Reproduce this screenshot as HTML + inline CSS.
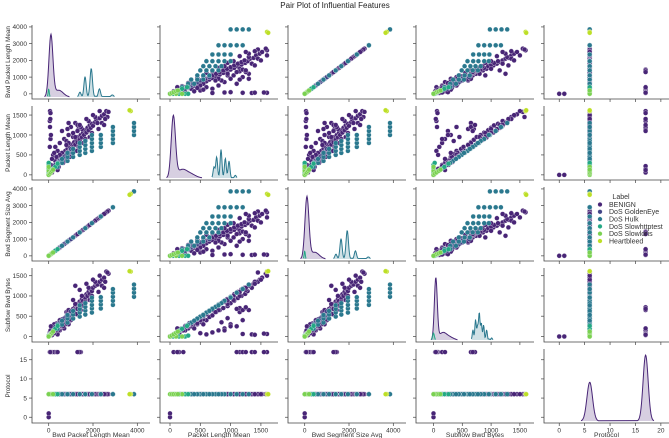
<!DOCTYPE html>
<html><head><meta charset="utf-8"><style>
html,body{margin:0;padding:0;background:#fff;}
svg{display:block;font-family:"Liberation Sans",sans-serif;}
</style></head><body>
<svg id="chart" width="669" height="438" viewBox="0 0 669 438" xmlns="http://www.w3.org/2000/svg">
<text x="335" y="8" text-anchor="middle" font-size="8" fill="#222">Pair Plot of Influential Features</text>
</svg>
<script>
// ---- data: each row = [bwdPacketLengthMean, packetLengthMean, bwdSegmentSizeAvg, subflowBwdBytes, protocol]
const featureNames = ["Bwd Packet Length Mean","Packet Length Mean","Bwd Segment Size Avg","Subflow Bwd Bytes","Protocol"];
const classNames = ["BENIGN","DoS GoldenEye","DoS Hulk","DoS Slowhttptest","DoS Slowloris","Heartbleed"];
const classColors = ["#482576","#414487","#2a788e","#22a884","#7ad151","#bddf26"];
const benign = [
[20,15,20,10,6],[50,40,50,30,6],[80,90,80,40,6],[120,70,120,60,6],[150,160,150,100,6],[200,130,200,120,6],
[250,220,250,150,6],[300,180,300,190,6],[350,300,350,200,6],[400,250,400,260,6],[450,380,450,280,6],
[500,320,500,330,6],[550,450,550,300,6],[600,400,600,380,6],[650,520,650,350,6],[700,470,700,450,6],
[750,600,750,400,6],[800,520,800,500,6],[850,650,850,480,6],[900,580,900,560,6],[950,700,950,520,6],
[1000,640,1000,620,6],[1050,760,1050,600,6],[1100,700,1100,680,6],[1150,820,1150,650,6],[1200,760,1200,740,6],
[1250,880,1250,700,6],[1300,820,1300,800,6],[1350,950,1350,750,6],[1400,880,1400,860,6],[1450,1000,1450,820,6],
[1500,940,1500,920,6],[1550,1060,1550,880,6],[1600,1000,1600,980,6],[1650,1120,1650,950,6],[1700,1060,1700,1040,6],
[1750,1180,1750,1000,6],[1800,1120,1800,1100,6],[1850,1240,1850,1050,6],[1900,1180,1900,1160,6],[1950,1280,1950,1120,6],
[2000,1230,2000,1200,6],[2100,1320,2100,1250,6],[2150,1380,2150,1300,6],[2200,1300,2200,1280,6],[2300,1420,2300,1350,6],
[2400,1480,2400,1400,6],[2500,1520,2500,1450,6],[2600,1600,2600,1600,6],[2700,1580,2700,1550,6],[1200,1300,1200,1250,6],
[2650,1450,2650,1580,6],[700,900,700,200,6],[500,800,500,150,6],[900,1000,900,300,6],[300,700,300,100,6],
[600,1100,600,250,6],[1000,1200,1000,400,6],[400,600,400,50,6],[800,850,800,350,6],[200,500,200,80,6],[1100,950,1100,450,6],
[300,350,300,250,6],[450,200,450,150,6],[600,550,600,420,6],[750,350,750,300,6],[900,800,900,650,6],[1050,550,1050,500,6],
[1200,950,1200,800,6],[1350,700,1350,650,6],[1500,1150,1500,1000,6],[1650,900,1650,850,6],[1800,1350,1800,1200,6],
[1950,1050,1950,1000,6],[2100,1450,2100,1350,6],[2250,1150,2250,1100,6],[2400,1300,2400,1250,6],[2550,1400,2550,1350,6],
[2000,1500,2000,1400,6],[1700,1400,1700,1300,6],[1400,1250,1400,1150,6],[1100,1050,1100,900,6],[800,750,800,600,6],
[500,500,500,400,6],[350,450,350,320,6],[650,300,650,250,6],[950,450,950,420,6],[1250,600,1250,550,6],[1550,800,1550,760,6],
[1850,950,1850,900,6],[2300,1600,2300,1500,6],[2500,1250,2500,1200,6],[100,250,100,150,6],[150,400,150,200,6],
[250,550,250,300,6],[50,700,50,100,6],[80,900,80,150,6],[100,1000,100,250,6],[60,1200,60,60,6],[850,1150,850,600,6],
[1300,1250,1300,700,6],[900,1300,900,650,6],
[0,0,0,0,0],[0,0,0,0,1],
[150,60,150,30,17],[250,150,250,80,17],[350,220,350,150,17],[400,120,400,200,17],
[60,1600,60,60,17],[80,1550,80,70,17],[50,1350,50,50,17],[70,1400,70,40,17],
[1350,1150,1350,700,17],[1450,1200,1450,650,17],[1400,1250,1400,720,17],[1300,1100,1300,680,17]
];
const goldenEye = [
[300,250,300,240,6],[500,350,500,340,6],[700,450,700,440,6],[900,550,900,500,6],
[400,300,400,280,6],[600,380,600,360,6],[1000,650,1000,620,6],[800,500,800,480,6]
];
const hulk = [
[3850,1000,3850,980,6],[3850,1100,3850,1080,6],[3850,1200,3850,1180,6],[3850,1300,3850,1280,6],
[2900,800,2900,780,6],[2900,900,2900,880,6],[2900,1000,2900,980,6],[2900,1100,2900,1080,6],[2900,1200,2900,1170,6],
[2350,700,2350,690,6],[2350,800,2350,790,6],[2350,900,2350,880,6],[2350,1000,2350,970,6],
[1950,600,1950,590,6],[1950,700,1950,690,6],[1950,800,1950,780,6],[1950,900,1950,880,6],[1950,1000,1950,960,6],
[1650,550,1650,540,6],[1650,650,1650,640,6],[1650,750,1650,730,6],[1650,850,1650,820,6],
[1400,500,1400,490,6],[1400,600,1400,590,6],[1400,700,1400,680,6],[1400,800,1400,770,6],
[1100,450,1100,440,6],[1100,550,1100,540,6],[1100,650,1100,630,6],
[850,350,850,340,6],[850,450,850,440,6],[850,550,850,530,6],
[600,300,600,290,6],[600,400,600,390,6],[400,200,400,190,6],[400,300,400,290,6],[200,120,200,110,6]
];
const slowhttptest = [
[0,50,0,0,6],[100,80,100,70,6],[200,150,200,140,6],[300,200,300,190,6],[400,280,400,260,6],
[0,150,0,0,6],[0,250,0,0,6],[0,300,0,20,6]
];
const slowloris = [
[0,0,0,0,6],[0,100,0,0,6],[50,30,50,20,6],[100,60,100,50,6],[150,100,150,90,6],[0,200,0,0,6],[200,130,200,120,6]
];
const heartbleed = [[3700,1600,3700,1600,6],[3650,1620,3650,1610,6]];
// ---- diagonal KDE components: [center, peak height (fraction of panel), bandwidth]
const kdeBwdBenign = [[100,0.9,90],[450,0.1,200]];
const kdeBwdHulk = [[1410,0.07,50],[1640,0.3,50],[1920,0.42,55],[2290,0.12,50],[2870,0.03,60]];
const kdeBwdSlow = [[0,0.12,25]];
const kdePlmBenign = [[55,0.9,35],[200,0.12,80],[350,0.05,80]];
const kdePlmHulk = [[726,0.16,15],[770,0.31,15],[842,0.42,15],[913,0.29,15],[974,0.25,15],[1078,0.04,15]];
const kdeSbbBenign = [[40,0.9,25],[165,0.11,70],[300,0.03,60]];
const kdeSbbHulk = [[685,0.15,12],[730,0.3,12],[765,0.2,12],[795,0.4,12],[830,0.25,12],[870,0.22,12],[922,0.15,12],[1010,0.03,12]];
const kdeSbbSlow = [[0,0.1,15]];
const kdeProtoBenign = [[6,0.57,0.55],[17,0.97,0.5]];
// ---- ticks
const xTickVals = [[0,2000,4000],[0,500,1000,1500],[0,2000,4000],[0,500,1000,1500],[0,5,10,15,20]];
const yTickVals = [[0,1000,2000,3000,4000],[0,500,1000,1500],[0,1000,2000,3000,4000],[0,500,1000,1500],[0,5,10,15]];
// ---- scales (domains)
const xDomains = [[-754,4573],[-165,1782],[-754,4573],[-304,1745],[-3.0,21.6]];
const yDomains = [[-308,4115],[-129,1727],[-308,4115],[-137,1690],[-1.5,17.8]];

const svg = document.getElementById('chart');
const NS = 'http://www.w3.org/2000/svg';
const colLeft = [32,160,288,416,544], colW = [118,118,118,118,125];
const rowTop = [25,106,187,268,349], rowH = 74;
function mk(tag, attrs, parent){const e=document.createElementNS(NS,tag);for(const k in attrs)e.setAttribute(k,attrs[k]);(parent||svg).appendChild(e);return e;}
function xs(j,v){const d=xDomains[j];return colLeft[j]+(v-d[0])/(d[1]-d[0])*colW[j];}
function ys(i,v){const d=yDomains[i];return rowTop[i]+rowH-(v-d[0])/(d[1]-d[0])*rowH;}
const allClasses=[benign,goldenEye,hulk,slowhttptest,slowloris,heartbleed];
const kdeSets={
 0:[[kdeBwdBenign,0],[kdeBwdSlow,3],[kdeBwdHulk,2]],
 1:[[kdePlmBenign,0],[kdePlmHulk,2]],
 2:[[kdeBwdBenign,0],[kdeBwdSlow,3],[kdeBwdHulk,2]],
 3:[[kdeSbbBenign,0],[kdeSbbSlow,3],[kdeSbbHulk,2]],
 4:[[kdeProtoBenign,0]]
};
const slug=s=>s.toLowerCase().replace(/[^a-z0-9]+/g,'-');
for(let i=0;i<5;i++){for(let j=0;j<5;j++){
  const g=mk('g',{});
  
  
  const L=colLeft[j],T=rowTop[i],W=colW[j],B=T+rowH;
  const sp=mk('path',{d:`M${L},${T} V${B} H${L+W}`,fill:'none',stroke:'#444','stroke-width':0.8},g);
  
  
  xTickVals[j].forEach(v=>{const x=xs(j,v);mk('line',{x1:x,x2:x,y1:B,y2:B+3,stroke:'#444','stroke-width':0.7},g);
    if(i===4){const t=mk('text',{x:x,y:B+9.5,'text-anchor':'middle','font-size':6.5,fill:'#333'},g);t.textContent=v;
      
      }});
  yTickVals[i].forEach(v=>{const y=ys(i,v);mk('line',{x1:L-3,x2:L,y1:y,y2:y,stroke:'#444','stroke-width':0.7},g);
    if(j===0){const t=mk('text',{x:L-5,y:y+2.3,'text-anchor':'end','font-size':6.5,fill:'#333'},g);t.textContent=v;
      
      }});
  if(i===j){
    const base=T+72, H=68;
    kdeSets[j].forEach(([comps,ci])=>{
      let pts=[];
      for(let px=L;px<=L+W;px+=0.5){
        const d=xDomains[j];const v=d[0]+(px-L)/W*(d[1]-d[0]);
        let dens=0;comps.forEach(c=>{dens+=c[1]*Math.exp(-0.5*Math.pow((v-c[0])/c[2],2));});
        if(dens>0.004)pts.push([px,base-dens*H]);
      }
      if(!pts.length)return;
      let d='M'+pts[0][0]+','+base+' '+pts.map(p=>'L'+p[0].toFixed(1)+','+p[1].toFixed(1)).join(' ')+' L'+pts[pts.length-1][0]+','+base+'Z';
      const area=mk('path',{d:d,fill:classColors[ci],'fill-opacity':0.22,stroke:'none'},g);
      
      
      const ln=mk('path',{d:'M'+pts.map(p=>p[0].toFixed(1)+','+p[1].toFixed(1)).join(' L'),fill:'none',stroke:classColors[ci],'stroke-width':1},g);
      
      
    });
  } else {
    allClasses.forEach((arr,ci)=>{arr.forEach(r=>{
      const c=mk('circle',{cx:xs(j,r[j]).toFixed(1),cy:ys(i,r[i]).toFixed(1),r:2.4,fill:classColors[ci],stroke:'#fff','stroke-width':0.3},g);
      
      
    });});
  }
}}
for(let j=0;j<5;j++){const t=mk('text',{x:colLeft[j]+colW[j]/2,y:437,'text-anchor':'middle','font-size':6.8,fill:'#333'});t.textContent=featureNames[j];
  
  }
for(let i=0;i<5;i++){const cy=rowTop[i]+37;const t=mk('text',{x:0,y:0,'text-anchor':'middle','font-size':6.3,fill:'#333',transform:`translate(10,${cy}) rotate(-90)`});t.textContent=featureNames[i];
  
  }
const lg=mk('g',{});


const lt=mk('text',{x:621,y:199,'text-anchor':'middle','font-size':7,fill:'#333'},lg);lt.textContent='Label';


classNames.forEach((n,k)=>{const y=204.5+k*7.3;
  const e=mk('g',{},lg);
  
  
  mk('circle',{cx:600,cy:y,r:2.3,fill:classColors[k],stroke:'#fff','stroke-width':0.35},e);
  const t=mk('text',{x:609,y:y+2.4,'font-size':7,fill:'#333'},e);t.textContent=n;});
</script>
</body></html>
